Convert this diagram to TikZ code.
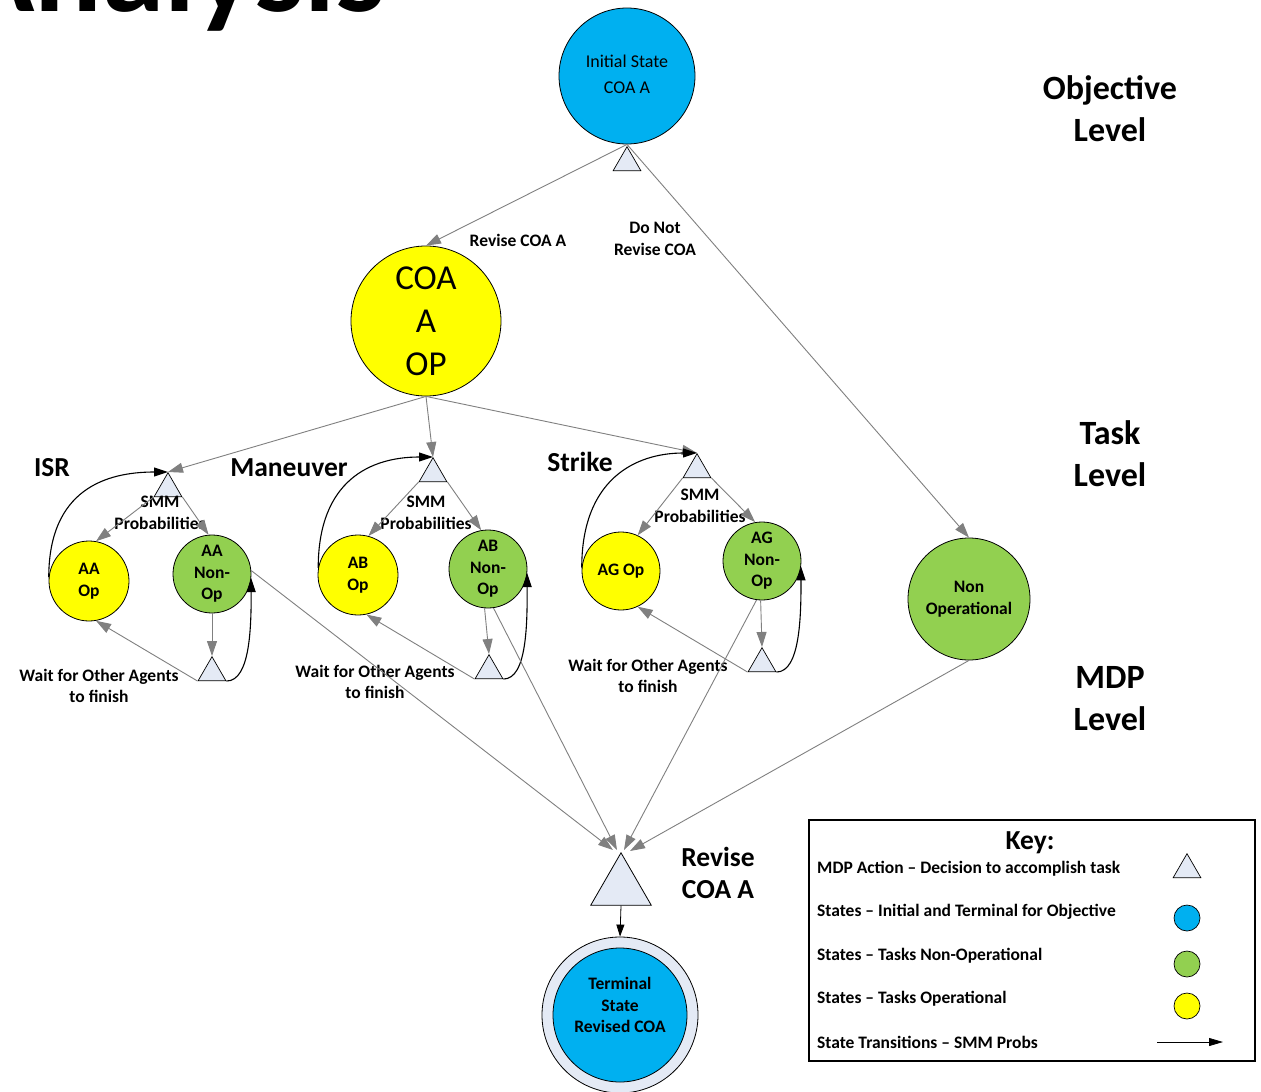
\documentclass[tikz,border=0pt]{standalone}
\usepackage{fontspec}
\setmainfont{Carlito}
\usetikzlibrary{shapes.geometric,arrows.meta}

\definecolor{stateblue}{HTML}{00B0F0}
\definecolor{opyellow}{HTML}{FFFF00}
\definecolor{nongreen}{HTML}{92D050}
\definecolor{actfill}{HTML}{E4EAF5}
\definecolor{edgegray}{HTML}{808080}

\newcommand\tagfont{\fontsize{17.5}{21.5}\selectfont\bfseries}
\newcommand\headfont{\fontsize{27.5}{32}\selectfont\bfseries}
\newcommand\levelfont{\fontsize{34}{42}\selectfont\bfseries}

\tikzset{
  statenode/.style={circle, draw=black, line width=0.8pt, inner sep=0pt, align=center, font=\tagfont},
  opstate/.style={statenode, fill=opyellow, minimum size=80pt},
  nonstate/.style={statenode, fill=nongreen, minimum size=78pt},
  actnode/.style={regular polygon, regular polygon sides=3, draw=black, line width=0.7pt,
                  fill=actfill, inner sep=0pt, minimum size=32pt},
  flow/.style={draw=edgegray, line width=0.9pt, -{Triangle[length=15pt,width=10pt]}},
  backflow/.style={draw=black, line width=1.1pt, -{Triangle[length=14pt,width=9pt]}},
  tag/.style={align=center, font=\tagfont, inner sep=0pt},
  head/.style={align=center, font=\headfont, inner sep=0pt},
  level/.style={align=center, font=\levelfont, inner sep=0pt},
  keyitem/.style={anchor=west, font=\tagfont, inner sep=0pt}
}

\begin{document}
\begin{tikzpicture}[x=1pt, y=-1pt]
  % canvas
  \fill[white] (0,0) rectangle (1261,1092);
  \useasboundingbox (0,0) rectangle (1261,1092);

  % page title running off the top edge
  \node[anchor=base west, inner sep=0pt, font=\fontsize{126}{130}\selectfont\bfseries] (title) at (-42,12) {Analysis};

  % objective level
  \node[statenode, fill=stateblue, minimum size=136pt] (init) at (627,76) {};
  \node[align=center, inner sep=0pt, font=\fontsize{18}{26}\selectfont] (inittext) at (627,74) {Initial State\\COA A};
  \node[actnode, anchor=corner 1] (topact) at (627,146) {};

  % task level
  \node[statenode, fill=opyellow, minimum size=150pt, font=\fontsize{35}{43}\selectfont] (coa) at (426,321) {COA\\A\\OP};
  \node[statenode, fill=nongreen, minimum size=122pt] (nonop) at (969,599) {Non\\Operational};

  \node[tag] (revlbl) at (518,240) {Revise COA A};
  \node[tag] (donotlbl) at (655,239) {Do Not\\Revise COA};

  \draw[flow] (init.south) -- (coa.north);
  \draw[flow] (init.south) -- (nonop.north);

  % ISR
  \node[head] (isrlbl) at (52,468) {ISR};
  \node[actnode, anchor=corner 1] (isrtri) at (168,472) {};
  \node[opstate] (aaop) at (89,581) {AA\\Op};
  \node[nonstate] (aanon) at (212,574) {AA\\Non-\\Op};
  \node[actnode, anchor=corner 1] (isrwait) at (212,656) {};
  \node[tag] (isrsmm) at (160,513) {SMM\\Probabilities};
  \node[tag] (isrwaitlbl) at (99,686) {Wait for Other Agents\\to finish};

  % Maneuver
  \node[head] (manlbl) at (289,468) {Maneuver};
  \node[actnode, anchor=corner 1] (mantri) at (433,457) {};
  \node[opstate] (abop) at (358,575) {AB\\Op};
  \node[nonstate] (abnon) at (488,569) {AB\\Non-\\Op};
  \node[actnode, anchor=corner 1] (manwait) at (489,654) {};
  \node[tag] (mansmm) at (426,513) {SMM\\Probabilities};
  \node[tag] (manwaitlbl) at (375,682) {Wait for Other Agents\\to finish};

  % Strike
  \node[head] (strlbl) at (580,462) {Strike};
  \node[actnode, anchor=corner 1] (strtri) at (697,453) {};
  \node[statenode, fill=opyellow, minimum size=78pt] (agop) at (621,571) {AG Op};
  \node[nonstate] (agnon) at (762,561) {AG\\Non-\\Op};
  \node[actnode, anchor=corner 1] (strwait) at (762,647) {};
  \node[tag] (strsmm) at (700,506) {SMM\\Probabilities};
  \node[tag] (strwaitlbl) at (648,676) {Wait for Other Agents\\to finish};

  % COA to the three tasks
  \draw[flow] (coa.south) -- (isrtri.corner 1);
  \draw[flow] (coa.south) -- (mantri.corner 1);
  \draw[flow] (coa.south) -- (strtri.corner 1);

  % ISR transitions
  \draw[flow] (isrtri.corner 2) -- (aaop.80);
  \draw[flow] (isrtri.corner 3) -- (aanon.95);
  \draw[flow] (aanon.south) -- (isrwait.corner 1);
  \draw[flow] (isrwait.corner 2) -- (aaop.-80);
  \draw[backflow] (isrwait.corner 3) .. controls +(24,0) and +(0,48) .. (aanon.-6);
  \draw[backflow] (aaop.175) .. controls +(0,-88) and +(-62,0) .. (isrtri.corner 1);

  % Maneuver transitions
  \draw[flow] (mantri.corner 2) -- (abop.75);
  \draw[flow] (mantri.corner 3) -- (abnon.100);
  \draw[flow] (abnon.-95) -- (manwait.corner 1);
  \draw[flow] (manwait.corner 2) -- (abop.-78);
  \draw[backflow] (manwait.corner 3) .. controls +(24,0) and +(0,48) .. (abnon.-6);
  \draw[backflow] (abop.170) .. controls +(0,-88) and +(-62,0) .. (mantri.corner 1);

  % Strike transitions
  \draw[flow] (strtri.corner 2) -- (agop.65);
  \draw[flow] (strtri.corner 3) -- (agnon.100);
  \draw[flow] (agnon.-92) -- (strwait.corner 1);
  \draw[flow] (strwait.corner 2) -- (agop.-65);
  \draw[backflow] (strwait.corner 3) .. controls +(24,0) and +(0,48) .. (agnon.-8);
  \draw[backflow] (agop.175) .. controls +(0,-88) and +(-62,0) .. (strtri.corner 1);

  % MDP level: revise action and terminal state
  \node[regular polygon, regular polygon sides=3, draw=black, line width=0.8pt, fill=actfill,
        inner sep=0pt, minimum size=70pt, anchor=corner 1] (rev) at (621,852) {};
  \node[head] (revisehead) at (718,873) {Revise\\COA A};

  \draw[flow] (aanon.5) -- ([xshift=-8pt,yshift=2pt]rev.corner 1);
  \draw[flow] (abnon.-82) -- ([xshift=-4pt,yshift=2pt]rev.corner 1);
  \draw[flow] (agnon.-98) -- ([xshift=3pt,yshift=2pt]rev.corner 1);
  \draw[flow] (nonop.south) -- ([xshift=9pt,yshift=1pt]rev.corner 1);

  \node[circle, draw=black, line width=0.8pt, fill=actfill, minimum size=156pt, inner sep=0pt] (termring) at (620,1015) {};
  \node[statenode, fill=stateblue, minimum size=134pt] (term) at (620,1015) {};
  \node[tag] (termtext) at (620,1005) {Terminal\\State\\Revised COA};
  \draw[black, line width=0.8pt, -{Triangle[length=12pt,width=8pt]}] (rev.side 2) -- (termring.north);

  % level headings
  \node[level] (objlvl) at (1110,109) {Objective\\Level};
  \node[level] (tasklvl) at (1110,454) {Task\\Level};
  \node[level] (mdplvl) at (1110,699) {MDP\\Level};

  % key
  \node[draw=black, line width=1.8pt, minimum width=446pt, minimum height=241pt, anchor=north west, inner sep=0pt] (keybox) at (808,819) {};
  \node[head] (keytitle) at (1030,843) {Key:};
  \node[keyitem] (key1) at (817,869) {MDP Action – Decision to accomplish task};
  \node[keyitem] (key2) at (817,912) {States – Initial and Terminal for Objective};
  \node[keyitem] (key3) at (817,956) {States – Tasks Non-Operational};
  \node[keyitem] (key4) at (817,999) {States – Tasks Operational};
  \node[keyitem] (key5) at (817,1042) {State Transitions – SMM Probs};
  \node[actnode, anchor=corner 1] (keytri) at (1187,853) {};
  \node[circle, draw=black, line width=0.7pt, fill=stateblue, minimum size=26pt, inner sep=0pt] (keyblue) at (1187,918) {};
  \node[circle, draw=black, line width=0.7pt, fill=nongreen, minimum size=26pt, inner sep=0pt] (keygreen) at (1187,964) {};
  \node[circle, draw=black, line width=0.7pt, fill=opyellow, minimum size=26pt, inner sep=0pt] (keyyellow) at (1187,1006) {};
  \coordinate (keyarrowfrom) at (1157,1042);
  \coordinate (keyarrowto) at (1223,1042);
  \draw[black, line width=0.8pt, -{Triangle[length=14pt,width=8pt]}] (keyarrowfrom) -- (keyarrowto);
\end{tikzpicture}
\end{document}
